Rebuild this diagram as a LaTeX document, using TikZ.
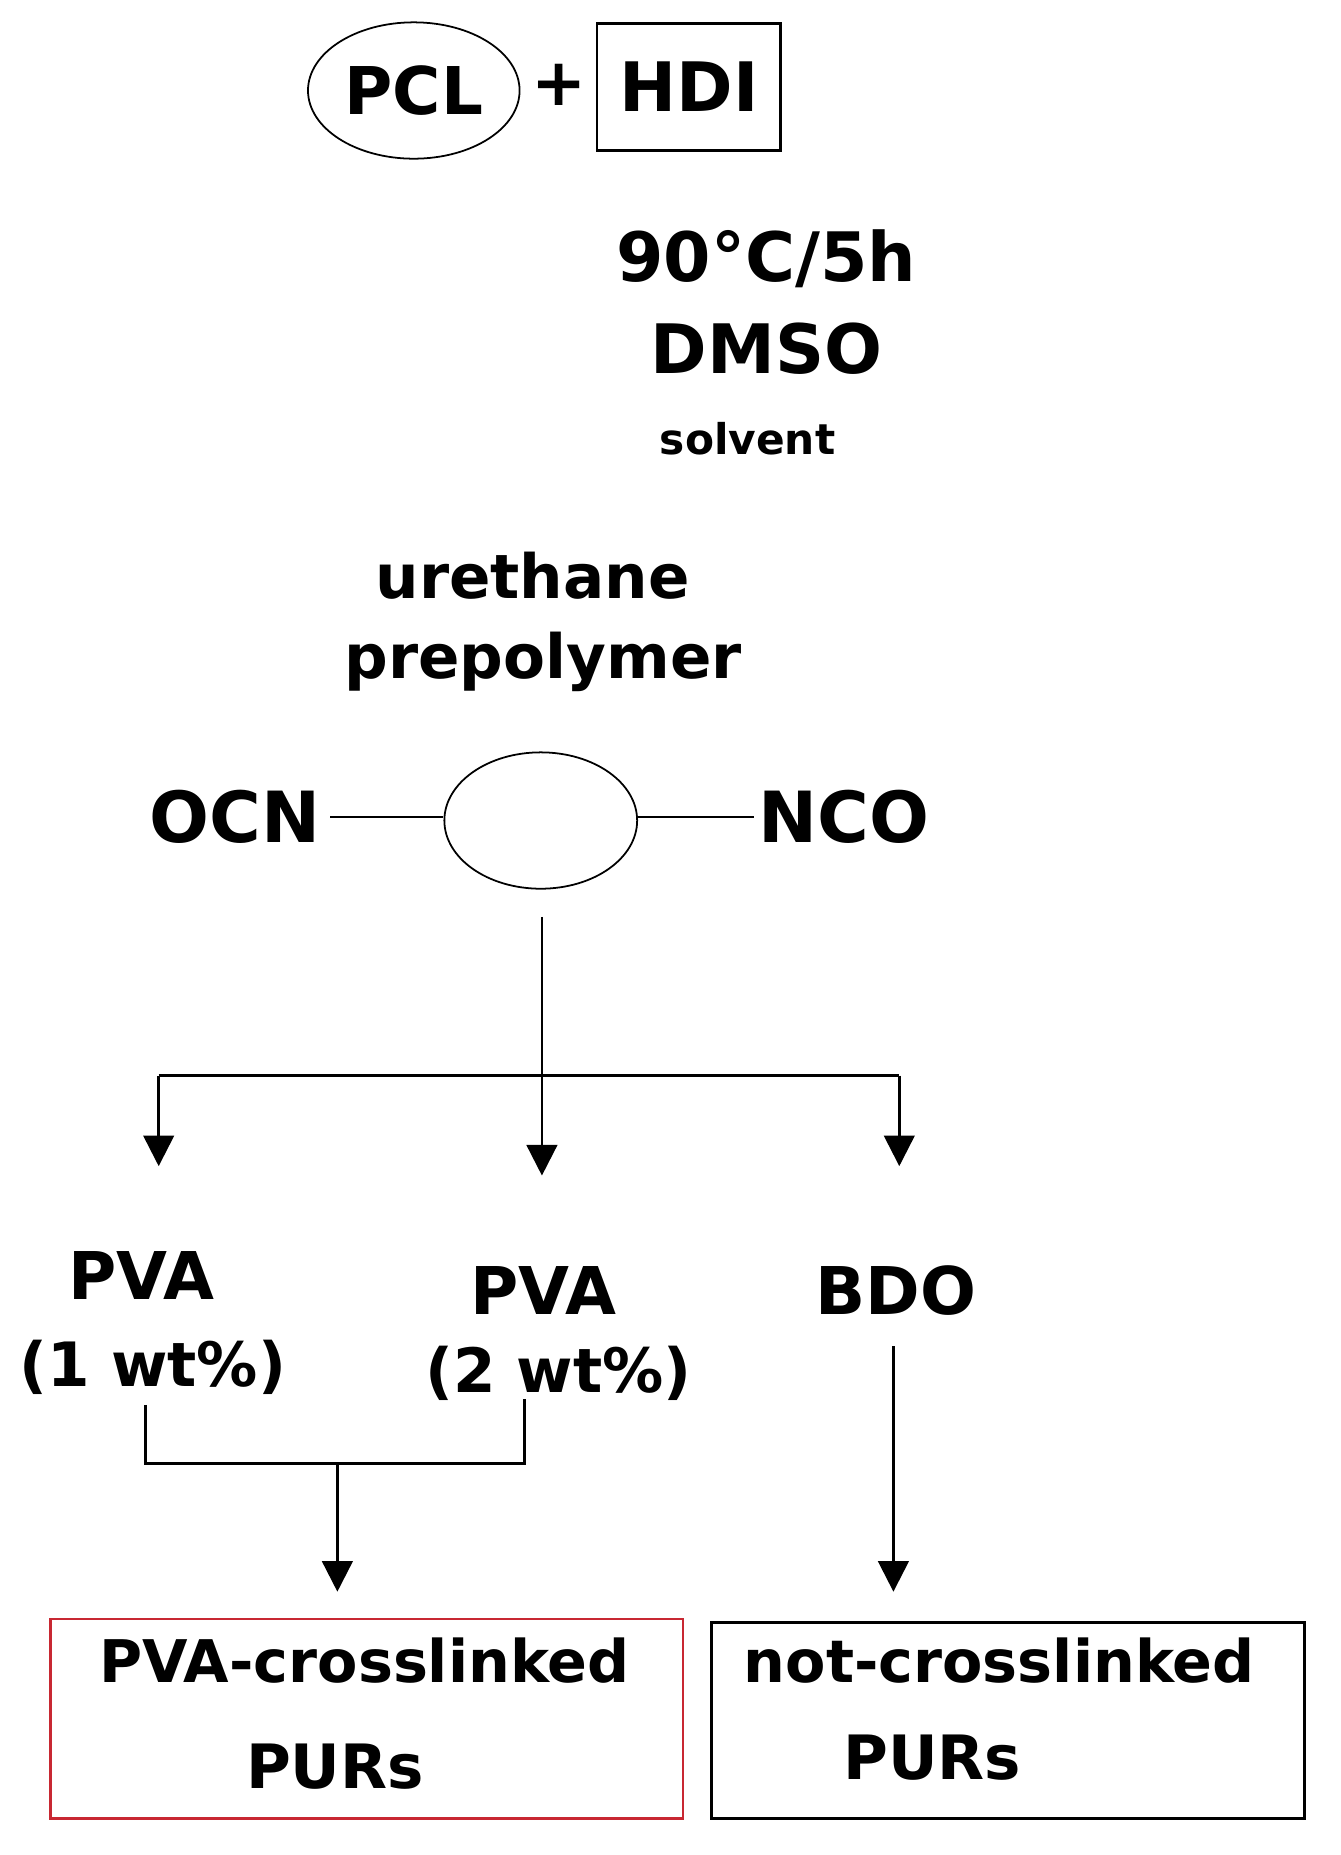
\documentclass[tikz,border=0pt]{standalone}
\usepackage{fontspec}
\setmainfont{DejaVu Sans}
\usetikzlibrary{arrows.meta,shapes.geometric}
\begin{document}
\begin{tikzpicture}[x=1pt,y=-1pt,
  t/.style={inner sep=0pt,font=\fontsize{#1}{#1}\selectfont\bfseries},
  ln/.style={line width=2.2pt},
  ar/.style={ln,-{Triangle[width=26pt,length=26pt]}}]
\useasboundingbox (0,0) rectangle (1140,1578);
\node[draw,ellipse,line width=1.5pt,minimum width=180pt,minimum height=116pt,inner sep=0pt] (pclb) at (352,77) {};
\node[t=56] (pcl) at (352,77) {PCL};
\node[t=56] (plus) at (476,72) {+};
\node[t=58,draw,line width=2pt,minimum width=156pt,minimum height=108pt] (hdi) at (586,74) {HDI};
\node[t=58] (c1) at (652,220) {90°C/5h};
\node[t=58] (c2) at (652,297) {DMSO};
\node[t=36] (c3) at (636,373) {solvent};
\node[t=52] (u1) at (453,490) {urethane};
\node[t=52] (u2) at (462,563) {prepolymer};
\node[t=60] (ocn) at (200,695) {OCN};
\node[draw,ellipse,line width=1.5pt,minimum width=164pt,minimum height=116pt,inner sep=0pt] (pre) at (460,698) {};
\node[t=60] (nco) at (718,695) {NCO};
\draw[line width=2pt] ([xshift=8pt]ocn.east) -- (pre.west|-ocn.east);
\draw[line width=2pt] (pre.east|-nco.west) -- ([xshift=-4pt]nco.west);
\coordinate (v0) at (461,780);
\coordinate (v1) at (461,1000);
\coordinate (h1) at (135,915);
\coordinate (h2) at (765,915);
\coordinate (a1) at (135,992);
\coordinate (a3) at (765,992);
\draw[ar] (v0) -- (v1);
\draw[ln] (h1) -- (h2);
\draw[ar] (h1) -- (a1);
\draw[ar] (h2) -- (a3);
\node[t=56] (p1) at (120,1085) {PVA};
\node[t=52] (w1) at (130,1163) {(1 wt\%)};
\node[t=56] (p2) at (462,1098) {PVA};
\node[t=52] (w2) at (475,1168) {(2 wt\%)};
\node[t=56] (bdo) at (762,1098) {BDO};
\coordinate (b1) at (124,1195);
\coordinate (b2) at (446,1190);
\coordinate (bm) at (287,1245);
\coordinate (bt) at (287,1354);
\draw[ln] (b1) |- (b2|-bm) -- (b2);
\draw[ar] (bm) -- (bt);
\coordinate (d0) at (760,1145);
\coordinate (d1) at (760,1354);
\draw[ar] (d0) -- (d1);
\draw[line width=2pt,draw={rgb,255:red,200;green,40;blue,50}] (43,1377) rectangle (581,1547);
\node[t=50] (r1) at (310,1413) {PVA-crosslinked};
\node[t=52] (r2) at (285,1503) {PURs};
\draw[line width=2.5pt] (605,1380) rectangle (1110,1547);
\node[t=50] (n1) at (850,1413) {not-crosslinked};
\node[t=52] (n2) at (793,1495) {PURs};
\end{tikzpicture}
\end{document}
